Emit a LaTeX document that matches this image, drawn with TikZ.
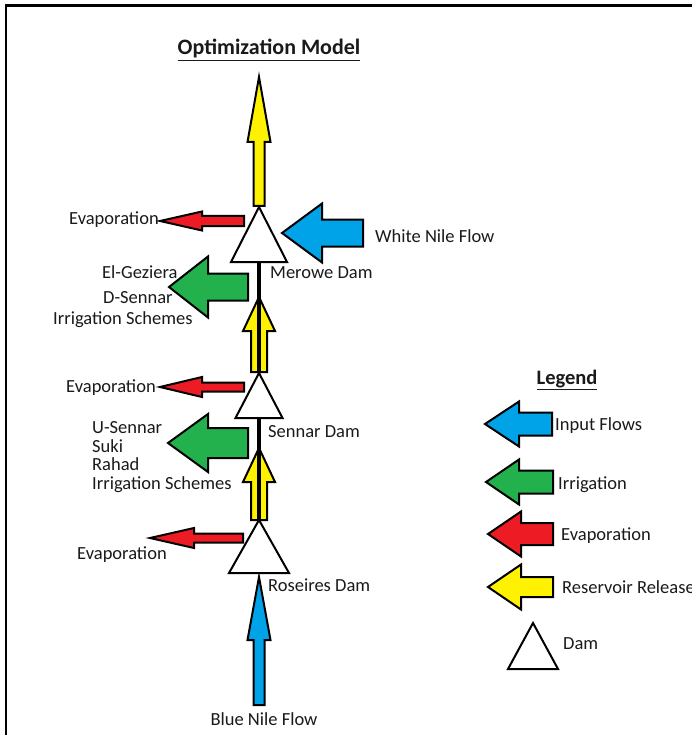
\documentclass[tikz,border=0pt]{standalone}
\usepackage{fontspec}
\setmainfont{Carlito}
\definecolor{pblue}{HTML}{00A2E8}
\definecolor{pgreen}{HTML}{22B14C}
\definecolor{pred}{HTML}{ED1C24}
\definecolor{pyellow}{HTML}{FFF200}
\definecolor{txt}{HTML}{1A1A1A}
\tikzset{
  blockarrow/.style={draw=black, line width=2pt, line join=miter, miter limit=20},
  damshape/.style={draw=black, line width=2pt, fill=white, line join=miter},
  damlink/.style={draw=black, line width=3.3pt},
  lbl/.style={inner sep=0pt, anchor=base west, text=txt, font=\fontsize{18.5}{22}\selectfont},
  ttl/.style={inner sep=0pt, anchor=base, text=txt, font=\fontsize{22}{26}\selectfont\bfseries},
  legttl/.style={inner sep=0pt, anchor=base, text=txt, font=\fontsize{20.5}{24}\selectfont\bfseries},
  frameline/.style={draw=black, line width=2.5pt}
}
% left-pointing block arrow: tipx, tipy, headbase x, head half, shaft half, end x, colour
\newcommand\larrowshape[7]{%
  \filldraw[blockarrow, fill=#7] (#1,#2) -- (#3,#2-#4) -- (#3,#2-#5) -- (#6,#2-#5) -- (#6,#2+#5) -- (#3,#2+#5) -- (#3,#2+#4) -- cycle;}
% upward block arrow: tipx, tipy, headbase y, head half, shaft half, end y, colour
\newcommand\uarrowshape[7]{%
  \filldraw[blockarrow, fill=#7] (#1,#2) -- (#1+#4,#3) -- (#1+#5,#3) -- (#1+#5,#6) -- (#1-#5,#6) -- (#1-#5,#3) -- (#1-#4,#3) -- cycle;}
% dam triangle: name, apex x, apex y, base y, half width
\newcommand\damtri[5]{%
  \coordinate (#1apex) at (#2,#3);
  \coordinate (#1base) at (#2,#4);
  \filldraw[damshape] (#2,#3) -- (#2+#5,#4) -- (#2-#5,#4) -- cycle;}
\begin{document}
\begin{tikzpicture}[x=1pt,y=-1pt]
\useasboundingbox (0,0) rectangle (692,735);
\fill[white] (0,0) rectangle (692,735);
% frame
\coordinate (frameBL) at (6,736);
\coordinate (frameTL) at (6,5.5);
\coordinate (frameTR) at (693,5.5);
\draw[frameline] (frameBL) -- (frameTL) -- (frameTR);

% title
\node[ttl] (title) at (269,55) {\underline{Optimization Model}};

% main chain: arrows
\uarrowshape{259}{77}{142}{11.5}{5.5}{206}{pyellow}
\uarrowshape{259}{297}{331}{16}{8}{372}{pyellow}
\uarrowshape{259}{448}{482}{16}{8}{520}{pyellow}
\uarrowshape{259}{577}{640}{11.5}{5.5}{705}{pblue}

% evaporation and irrigation
\larrowshape{160}{221}{202}{9.5}{5}{244}{pred}
\larrowshape{282}{233}{322}{29.5}{13.5}{363}{pblue}
\larrowshape{169}{287}{208}{30.5}{13.5}{248}{pgreen}
\larrowshape{160}{387}{202}{10}{4.5}{244}{pred}
\larrowshape{168}{443}{208}{29}{15}{248}{pgreen}
\larrowshape{150}{538}{194}{10}{4.5}{243}{pred}

% dams
\damtri{merowe}{259}{207}{262}{28}
\damtri{sennar}{259}{373}{418}{23.5}
\damtri{roseires}{259}{520}{573}{30}

% dam links
\draw[damlink] (merowebase) -- (sennarapex);
\draw[damlink] (sennarbase) -- (roseiresapex);

% labels
\node[lbl] (evap1) at (69,225) {Evaporation};
\node[lbl] (wnf) at (375,242) {White Nile Flow};
\node[lbl] (merowelbl) at (270,278) {Merowe Dam};
\node[lbl] (elg) at (102,278) {El-Geziera};
\node[lbl] (dsen) at (103,303) {D-Sennar};
\node[lbl] (irr1) at (53,324) {Irrigation Schemes};
\node[lbl] (evap2) at (66,392) {Evaporation};
\node[lbl] (usen) at (92,433) {U-Sennar};
\node[lbl] (suki) at (92,452) {Suki};
\node[lbl] (rahad) at (92,470) {Rahad};
\node[lbl] (irr2) at (92,489) {Irrigation Schemes};
\node[lbl] (sennarlbl) at (268,437) {Sennar Dam};
\node[lbl] (evap3) at (77,559) {Evaporation};
\node[lbl] (roseireslbl) at (268,591) {Roseires Dam};
\node[lbl, anchor=base] (bnf) at (264,725) {Blue Nile Flow};

% legend
\node[legttl] (legend) at (567,384) {\underline{Legend}};
\larrowshape{485}{424}{519}{22.5}{11.5}{552}{pblue}
\larrowshape{486}{482}{519}{22.5}{11.5}{553}{pgreen}
\larrowshape{488}{534}{521}{22.5}{11}{553}{pred}
\larrowshape{488}{587}{521}{22.5}{10}{553}{pyellow}
\damtri{legdam}{533}{623}{669}{25}
\node[lbl] (lin) at (555,430) {Input Flows};
\node[lbl] (lirr) at (558,489) {Irrigation};
\node[lbl] (levap) at (561,540) {Evaporation};
\node[lbl] (lres) at (562,593) {Reservoir Release};
\node[lbl] (ldam) at (563,649) {Dam};
\end{tikzpicture}
\end{document}
